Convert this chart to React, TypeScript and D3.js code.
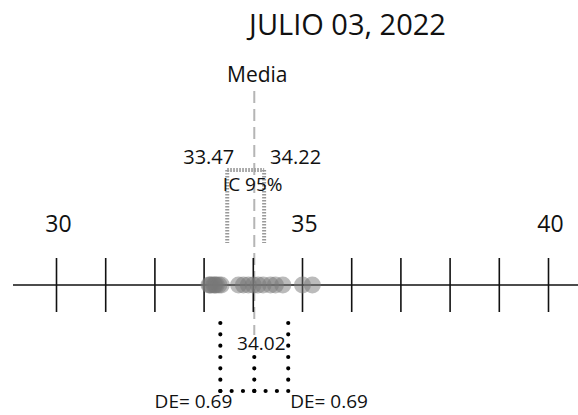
import React from "react";
import * as d3 from "d3";

// Measurements of the day (grams)
const values = [
  33.1, 33.12, 33.15, 33.2, 33.22, 33.25, 33.3, 33.35,
  33.7, 33.8, 33.9, 34.0, 34.1, 34.2, 34.35, 34.45, 34.6,
  35.0, 35.2,
];
const title = "JULIO 03, 2022";
const mean = 34.02;
const ciLow = 33.47;
const ciHigh = 34.22;
const sd = 0.69;
const tickValues = [30, 31, 32, 33, 34, 35, 36, 37, 38, 39, 40];
const labeledTicks = [30, 35, 40];

const W = 578;
const H = 415;
const FONT = "'Open Sans', 'Noto Sans', sans-serif";

export default function App() {
  const x = d3.scaleLinear().domain([30, 40]).range([56.5, 548.5]);
  const axisY = 285;
  const mx = x(mean);

  // dotted DE box: open-top U with a center line
  const boxL = x(mean - sd);
  const boxR = x(mean + sd);
  const boxTop = 323;
  const boxBottom = 391;

  const ciDash = { stroke: "#9a9a9a", strokeWidth: 4, strokeDasharray: "1.6 1.4" };
  const dot = {
    stroke: "#000",
    strokeWidth: 4.2,
    strokeLinecap: "round" as const,
    strokeDasharray: `0 ${(boxBottom - boxTop) / 6}`,
    fill: "none",
  };

  return (
    <svg
      width={W}
      height={H}
      style={{ position: "absolute", left: 0, top: 0, background: "#fff" }}
      fontFamily={FONT}
    >
      <text x={347.5} y={35} textAnchor="middle" fontSize={29} fill="#111">
        {title}
      </text>

      {/* mean line */}
      <line x1={mx} x2={mx} y1={91} y2={335} stroke="#b5b5b5" strokeWidth={2} strokeDasharray="12 6" />
      <text x={mx + 3} y={82} textAnchor="middle" fontSize={21} fill="#111">
        Media
      </text>

      {/* confidence interval */}
      <line x1={x(ciLow)} x2={x(ciHigh)} y1={170} y2={170} {...ciDash} />
      <line x1={x(ciLow)} x2={x(ciLow)} y1={170} y2={243} {...ciDash} />
      <line x1={x(ciHigh)} x2={x(ciHigh)} y1={170} y2={243} {...ciDash} />
      <text x={x(ciLow) + 7} y={164} textAnchor="end" fontSize={20} fill="#111">
        {ciLow.toFixed(2)}
      </text>
      <text x={x(ciHigh) + 6} y={164} textAnchor="start" fontSize={20} fill="#111">
        {ciHigh.toFixed(2)}
      </text>
      <text x={(x(ciLow) + x(ciHigh)) / 2 + 7} y={191} textAnchor="middle" fontSize={19} fill="#111">
        IC 95%
      </text>

      {/* axis */}
      <line x1={13} x2={W} y1={axisY} y2={axisY} stroke="#111" strokeWidth={1.6} />
      {tickValues.map((t) => (
        <line key={t} x1={x(t)} x2={x(t)} y1={258} y2={312} stroke="#111" strokeWidth={1.6} />
      ))}
      {labeledTicks.map((t) => (
        <text key={t} x={x(t) + 2} y={232} textAnchor="middle" fontSize={23} fill="#111">
          {t}
        </text>
      ))}

      {/* observations */}
      {values.map((v, i) => (
        <circle key={i} cx={x(v)} cy={axisY} r={8.5} fill="#777" fillOpacity={0.5} />
      ))}

      {/* standard deviation box */}
      <line x1={boxL} x2={boxL} y1={boxTop} y2={boxBottom} {...dot} />
      <line x1={boxR} x2={boxR} y1={boxTop} y2={boxBottom} {...dot} />
      <line x1={boxL} x2={boxR} y1={boxBottom} y2={boxBottom} {...dot} strokeDasharray={`0 ${(boxR - boxL) / 6}`} />
      <line x1={mx} x2={mx} y1={357} y2={boxBottom} {...dot} strokeDasharray="0 11.3" />
      <text x={mx + 7} y={350} textAnchor="middle" fontSize={19} fill="#111">
        {mean.toFixed(2)}
      </text>
      <text x={boxL + 12} y={408} textAnchor="end" fontSize={19} fill="#111">
        {`DE= ${sd}`}
      </text>
      <text x={boxR + 2} y={408} textAnchor="start" fontSize={19} fill="#111">
        {`DE= ${sd}`}
      </text>
    </svg>
  );
}
